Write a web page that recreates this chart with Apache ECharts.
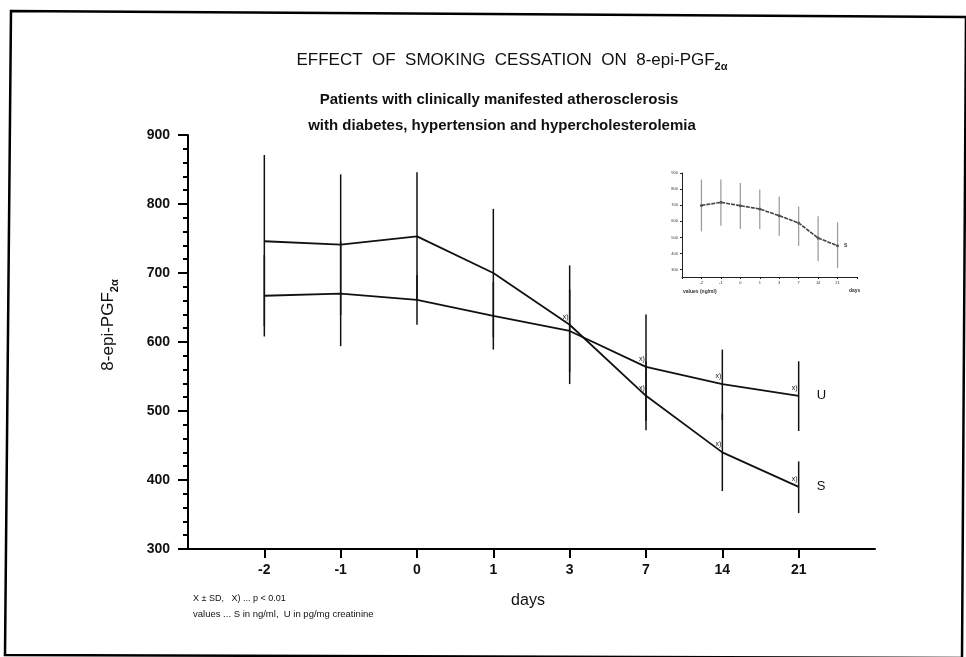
<!DOCTYPE html>
<html>
<head>
<meta charset="utf-8">
<script src="https://cdn.jsdelivr.net/npm/echarts@6/dist/echarts.min.js"></script>
<style>
  html, body { margin: 0; padding: 0; background: #fff; }
  #chart { width: 966px; height: 657px; }
</style>
</head>
<body>
<div id="chart"></div>
<script>
// day labels (equally spaced on the axis)
var days = ['-2', '-1', '0', '1', '3', '7', '14', '21'];

// S (serum) and U (urine) means
var sMean = [746, 741, 753, 700, 625, 522, 440, 390];
var uMean = [667, 670, 661, 638, 616, 564, 539, 522];
// error bar ends
var sHigh = [871, 843, 846, 793, 711, 572, 496, 427];
var sLow  = [623, 639, 662, 607, 539, 472, 384, 352];
var uHigh = [726, 746, 697, 687, 676, 640, 589, 572];
var uLow  = [608, 594, 625, 589, 556, 486, 487, 471];
// x) ... p < 0.01
var sSig = [0, 0, 0, 0, 1, 1, 1, 1];
var uSig = [0, 0, 0, 0, 0, 1, 1, 1];

// small inset chart (top right)
var insetMean = [699, 718, 697, 677, 635, 590, 497, 449];
var insetHigh = [859, 859, 838, 797, 755, 693, 631, 594];
var insetLow  = [538, 573, 552, 552, 511, 449, 352, 310];
var insetTicks = [300, 400, 500, 600, 700, 800, 900];

var FONT = '"Liberation Sans", Arial, sans-serif';

function pts(arr, sig) {
    return arr.map(function (v, i) {
        return { value: [i, v], label: { show: !!(sig && sig[i]) } };
    });
}
function bars(lo, hi) {
    return lo.map(function (v, i) { return [i, v, hi[i]]; });
}
function errBar(color, width) {
    return function (params, api) {
        var x = api.value(0);
        var a = api.coord([x, api.value(1)]);
        var b = api.coord([x, api.value(2)]);
        return {
            type: 'line',
            shape: { x1: a[0], y1: a[1], x2: b[0], y2: b[1] },
            style: { stroke: color, lineWidth: width }
        };
    };
}

var chart = echarts.init(document.getElementById('chart'));

var sigLabel = {
    show: false, formatter: 'x)', position: 'top', distance: 4, offset: [-4, 0],
    fontSize: 7, fontFamily: FONT, color: '#111'
};

chart.setOption({
    animation: false,
    backgroundColor: '#fff',
    textStyle: { fontFamily: FONT },
    grid: [
        { left: 188, right: 91, top: 135, bottom: 108 },
        { left: 682, top: 173, width: 175, height: 104 }
    ],
    xAxis: [{
        type: 'value', gridIndex: 0, min: -1, max: 8, interval: 1,
        axisLine: { onZero: false, lineStyle: { color: '#000', width: 2 } },
        axisTick: { length: 9, lineStyle: { color: '#000', width: 2 } },
        axisLabel: {
            margin: 14, fontSize: 14, fontWeight: 'bold', color: '#111', fontFamily: FONT,
            showMinLabel: false, showMaxLabel: false,
            formatter: function (v) { return days[v] || ''; }
        },
        splitLine: { show: false }
    }, {
        type: 'value', gridIndex: 1, min: -1, max: 8, interval: 1,
        axisLine: { onZero: false, lineStyle: { color: '#222', width: 1 } },
        axisTick: { length: 2, lineStyle: { color: '#222', width: 1 } },
        axisLabel: {
            margin: 4, fontSize: 4, color: '#333',
            formatter: function (v) { return days[v] || ''; }
        },
        splitLine: { show: false }
    }],
    yAxis: [{
        type: 'value', gridIndex: 0, min: 300, max: 900, interval: 100,
        axisLine: { show: true, onZero: false, lineStyle: { color: '#000', width: 2 } },
        axisTick: { show: true, length: 10, lineStyle: { color: '#000', width: 2 } },
        minorTick: { show: true, splitNumber: 5, length: 5, lineStyle: { color: '#000', width: 2 } },
        axisLabel: { margin: 18, fontSize: 14, fontWeight: 'bold', color: '#111', fontFamily: FONT },
        splitLine: { show: false }
    }, {
        type: 'value', gridIndex: 1, min: 255, max: 900,
        axisLine: { show: true, onZero: false, lineStyle: { color: '#222', width: 1 } },
        axisTick: { show: true, length: 2, customValues: insetTicks, lineStyle: { color: '#222', width: 1 } },
        axisLabel: { margin: 4, fontSize: 4, color: '#333', customValues: insetTicks },
        splitLine: { show: false }
    }],
    series: [
        {
            type: 'custom', name: 'S sd', xAxisIndex: 0, yAxisIndex: 0,
            renderItem: errBar('#111', 1.5), data: bars(sLow, sHigh), z: 3
        },
        {
            type: 'custom', name: 'U sd', xAxisIndex: 0, yAxisIndex: 0,
            renderItem: errBar('#111', 1.5), data: bars(uLow, uHigh), z: 3
        },
        {
            type: 'line', name: 'S', xAxisIndex: 0, yAxisIndex: 0,
            data: pts(sMean, sSig), symbol: 'circle', symbolSize: 1,
            itemStyle: { color: '#111' }, lineStyle: { color: '#111', width: 1.8 },
            label: sigLabel,
            endLabel: { show: true, formatter: 'S', distance: 18, fontSize: 13, color: '#111', fontFamily: FONT },
            z: 4
        },
        {
            type: 'line', name: 'U', xAxisIndex: 0, yAxisIndex: 0,
            data: pts(uMean, uSig), symbol: 'circle', symbolSize: 1,
            itemStyle: { color: '#111' }, lineStyle: { color: '#111', width: 1.8 },
            label: sigLabel,
            endLabel: { show: true, formatter: 'U', distance: 18, fontSize: 13, color: '#111', fontFamily: FONT },
            z: 4
        },
        {
            type: 'custom', name: 'inset sd', xAxisIndex: 1, yAxisIndex: 1,
            renderItem: errBar('#999', 1.2), data: bars(insetLow, insetHigh), z: 2
        },
        {
            type: 'line', name: 'inset', xAxisIndex: 1, yAxisIndex: 1,
            data: pts(insetMean), symbol: 'circle', symbolSize: 3,
            itemStyle: { color: '#555' },
            lineStyle: { color: '#444', width: 1.6, type: [4, 1] },
            z: 3
        }
    ],
    graphic: [
        {
            type: 'polygon', silent: true,
            shape: { points: [[11, 11], [966, 17], [962, 658], [5, 655]] },
            style: { fill: 'none', stroke: '#000', lineWidth: 2.5 }
        },
        {
            type: 'text', x: 512, y: 60,
            style: {
                text: '{a|EFFECT  OF  SMOKING  CESSATION  ON  8-epi-PGF}{s|2α}',
                textAlign: 'center', textVerticalAlign: 'middle', fill: '#111',
                rich: {
                    a: { fontSize: 17, fontFamily: FONT, color: '#111' },
                    s: { fontSize: 11, fontWeight: 'bold', fontFamily: FONT, color: '#111', verticalAlign: 'bottom', lineHeight: 24 }
                }
            }
        },
        {
            type: 'text', x: 499, y: 100,
            style: {
                text: 'Patients with clinically manifested atherosclerosis',
                font: 'bold 15px ' + FONT, fill: '#111', textAlign: 'center', textVerticalAlign: 'middle'
            }
        },
        {
            type: 'text', x: 502, y: 126,
            style: {
                text: 'with diabetes, hypertension and hypercholesterolemia',
                font: 'bold 15px ' + FONT, fill: '#111', textAlign: 'center', textVerticalAlign: 'middle'
            }
        },
        {
            type: 'text', x: 108, y: 325, rotation: Math.PI / 2,
            style: {
                text: '{a|8-epi-PGF}{s|2α}',
                textAlign: 'center', textVerticalAlign: 'middle', fill: '#111',
                rich: {
                    a: { fontSize: 17, fontFamily: FONT, color: '#111' },
                    s: { fontSize: 11, fontWeight: 'bold', fontFamily: FONT, color: '#111', verticalAlign: 'bottom', lineHeight: 25 }
                }
            }
        },
        {
            type: 'text', x: 528, y: 601,
            style: { text: 'days', font: '16px ' + FONT, fill: '#111', textAlign: 'center', textVerticalAlign: 'middle' }
        },
        {
            type: 'text', x: 193, y: 599,
            style: { text: 'X ± SD,   X) ... p < 0.01', font: '9px ' + FONT, fill: '#111', textVerticalAlign: 'middle' }
        },
        {
            type: 'text', x: 193, y: 614,
            style: { text: 'values ... S in ng/ml,  U in pg/mg creatinine', font: '9.5px ' + FONT, fill: '#111', textVerticalAlign: 'middle' }
        },
        {
            type: 'text', x: 683, y: 292,
            style: { text: 'values (ng/ml)', font: 'bold 5px ' + FONT, fill: '#333', textVerticalAlign: 'middle' }
        },
        {
            type: 'text', x: 849, y: 291,
            style: { text: 'days', font: 'bold 5px ' + FONT, fill: '#333', textVerticalAlign: 'middle' }
        },
        {
            type: 'text', x: 844, y: 246,
            style: { text: 'S', font: 'bold 5px ' + FONT, fill: '#333', textVerticalAlign: 'middle' }
        }
    ]
});
</script>
</body>
</html>
